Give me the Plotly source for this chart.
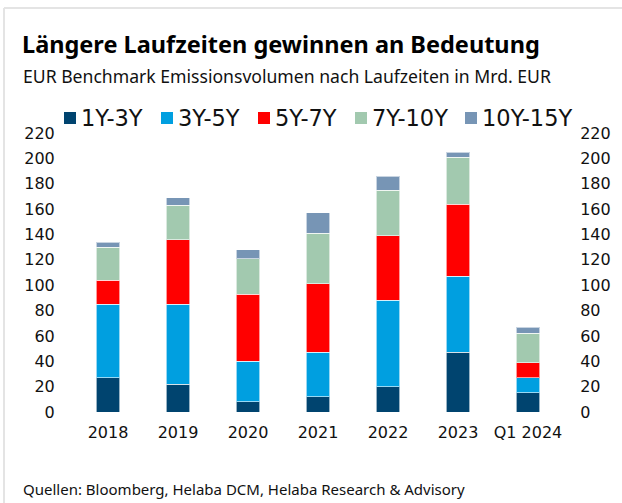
import plotly.graph_objects as go

categories = ["2018", "2019", "2020", "2021", "2022", "2023", "Q1 2024"]
series_names = ["1Y-3Y", "3Y-5Y", "5Y-7Y", "7Y-10Y", "10Y-15Y"]
v_1y_3y = [27, 22, 8, 12, 20, 47, 15]
v_3y_5y = [58, 63, 32, 35, 68, 60, 12]
v_5y_7y = [19, 51, 53, 54, 51, 57, 12]
v_7y_10y = [26, 27, 28, 40, 36, 37, 23]
v_10y_15y = [4, 6, 7, 16, 11, 4, 5]
y_ticks = [0, 20, 40, 60, 80, 100, 120, 140, 160, 180, 200, 220]

colors = ["#00446f", "#009fe0", "#ff0000", "#a2c9af", "#7795b5"]
series_values = [v_1y_3y, v_3y_5y, v_5y_7y, v_7y_10y, v_10y_15y]

W, H = 622, 503
L, R, T, B = 73, 59, 133, 91
PW, PH = W - L - R, H - T - B


def px(x):
    return (x - L) / PW


def py(y):
    return (H - B - y) / PH


fig = go.Figure()
for name, vals, col in zip(series_names, series_values, colors):
    fig.add_trace(go.Bar(
        x=categories, y=vals, name=name, marker_color=col,
        marker_line=dict(color="rgba(255,255,255,0.6)", width=1),
        showlegend=False,
    ))
# invisible trace to drive the right axis
fig.add_trace(go.Scatter(x=categories, y=[None] * len(categories), yaxis="y2",
                         showlegend=False, hoverinfo="skip"))

tick_font = dict(family="DejaVu Sans", size=16, color="#111111")
fig.update_layout(
    width=W, height=H,
    margin=dict(l=L, r=R, t=T, b=B, autoexpand=False),
    paper_bgcolor="white", plot_bgcolor="white",
    barmode="stack", bargap=0.67,
    xaxis=dict(showline=False, showgrid=False, zeroline=False,
               ticks="outside", ticklen=6, tickcolor="rgba(0,0,0,0)",
               tickfont=tick_font),
    yaxis=dict(range=[0, 220], tickvals=y_ticks, showgrid=False, zeroline=False,
               showline=False, ticks="outside", ticklen=14,
               tickcolor="rgba(0,0,0,0)", tickfont=tick_font),
    yaxis2=dict(range=[0, 220], tickvals=y_ticks, overlaying="y", side="right",
                showgrid=False, zeroline=False, showline=False, ticks="outside",
                ticklen=13, tickcolor="rgba(0,0,0,0)", tickfont=tick_font),
    showlegend=False,
)

annotations = [
    dict(text="<b>Längere Laufzeiten gewinnen an Bedeutung</b>", x=px(20), y=py(44),
         font=dict(family="Noto Sans", size=23.5, color="#000000")),
    dict(text="EUR Benchmark Emissionsvolumen nach Laufzeiten in Mrd. EUR", x=px(21), y=py(76),
         font=dict(family="Noto Sans", size=17.6, color="#111111")),
    dict(text="Quellen: Bloomberg, Helaba DCM, Helaba Research &amp; Advisory", x=px(21), y=py(489),
         font=dict(family="Noto Sans", size=15, color="#111111")),
]
for a in annotations:
    a.update(xref="paper", yref="paper", xanchor="left", yanchor="middle", showarrow=False)

# custom legend
square_x = [64, 161, 258, 355, 465]
shapes = []
for sx, name, col in zip(square_x, series_names, colors):
    shapes.append(dict(type="rect", xref="paper", yref="paper",
                       x0=px(sx), x1=px(sx + 12), y0=py(124), y1=py(112),
                       fillcolor=col, line=dict(width=0)))
    annotations.append(dict(text=name, xref="paper", yref="paper", x=px(sx + 15), y=py(118),
                            xanchor="left", yanchor="middle", showarrow=False,
                            font=dict(family="DejaVu Sans", size=22.5, color="#111111")))

# light frame
shapes.append(dict(type="line", xref="paper", yref="paper", x0=px(4), x1=px(622),
                   y0=py(8), y1=py(8), line=dict(color="#e4e4e4", width=2)))
shapes.append(dict(type="line", xref="paper", yref="paper", x0=px(4), x1=px(4),
                   y0=py(8), y1=py(503), line=dict(color="#e4e4e4", width=2)))

fig.update_layout(annotations=annotations, shapes=shapes)
fig.write_html("out.html", config={"displayModeBar": False},
               post_script="document.body.style.margin='0';document.body.style.overflow='hidden';")
